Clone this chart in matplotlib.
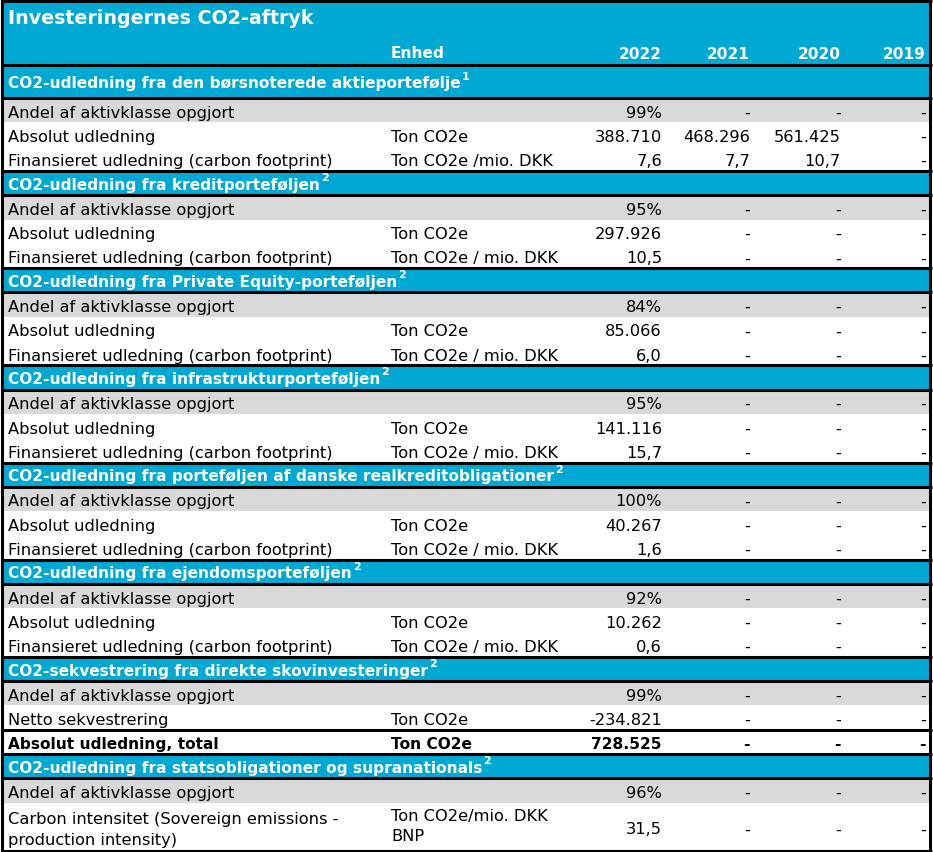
import matplotlib
matplotlib.use("Agg")
import matplotlib.pyplot as plt
from matplotlib.patches import Rectangle

# data
title = "Investeringernes CO2-aftryk"
unit_header = "Enhed"
years = ["2022", "2021", "2020", "2019"]

section_titles = [
    "CO2-udledning fra den børsnoterede aktieportefølje",
    "CO2-udledning fra kreditporteføljen",
    "CO2-udledning fra Private Equity-porteføljen",
    "CO2-udledning fra infrastrukturporteføljen",
    "CO2-udledning fra porteføljen af danske realkreditobligationer",
    "CO2-udledning fra ejendomsporteføljen",
    "CO2-sekvestrering fra direkte skovinvesteringer",
    "CO2-udledning fra statsobligationer og supranationals",
]
section_notes = ["1", "2", "2", "2", "2", "2", "2", "2"]

andel = "Andel af aktivklasse opgjort"
absolut = "Absolut udledning"
finans = "Finansieret udledning (carbon footprint)"
ton = "Ton CO2e"
ton_dkk = "Ton CO2e / mio. DKK"

# each row: label, unit, values 2022..2019
section_rows = [
    [(andel, "", ["99%", "-", "-", "-"]),
     (absolut, ton, ["388.710", "468.296", "561.425", "-"]),
     (finans, "Ton CO2e /mio. DKK", ["7,6", "7,7", "10,7", "-"])],
    [(andel, "", ["95%", "-", "-", "-"]),
     (absolut, ton, ["297.926", "-", "-", "-"]),
     (finans, ton_dkk, ["10,5", "-", "-", "-"])],
    [(andel, "", ["84%", "-", "-", "-"]),
     (absolut, ton, ["85.066", "-", "-", "-"]),
     (finans, ton_dkk, ["6,0", "-", "-", "-"])],
    [(andel, "", ["95%", "-", "-", "-"]),
     (absolut, ton, ["141.116", "-", "-", "-"]),
     (finans, ton_dkk, ["15,7", "-", "-", "-"])],
    [(andel, "", ["100%", "-", "-", "-"]),
     (absolut, ton, ["40.267", "-", "-", "-"]),
     (finans, ton_dkk, ["1,6", "-", "-", "-"])],
    [(andel, "", ["92%", "-", "-", "-"]),
     (absolut, ton, ["10.262", "-", "-", "-"]),
     (finans, ton_dkk, ["0,6", "-", "-", "-"])],
    [(andel, "", ["99%", "-", "-", "-"]),
     ("Netto sekvestrering", ton, ["-234.821", "-", "-", "-"])],
    [(andel, "", ["96%", "-", "-", "-"]),
     ("Carbon intensitet (Sovereign emissions -\nproduction intensity)",
      "Ton CO2e/mio. DKK\nBNP", ["31,5", "-", "-", "-"])],
]
total_row = ("Absolut udledning, total", ton, ["728.525", "-", "-", "-"])

BLUE = "#00a9d4"
GREY = "#d9d9d9"
W, H = 933, 853
FS = 11.7      # normal text
FSB = 11.1     # bold text

fig = plt.figure(figsize=(W / 100, H / 100), dpi=100)
ax = fig.add_axes([0, 0, 1, 1])
ax.set_xlim(0, W)
ax.set_ylim(H, 0)
ax.axis("off")

x0, x1 = 2, 930
lab_x, unit_x = 8, 391
val_x = [662, 750, 841, 926]
rh = 24.3

borders = []


def band(y, h, color):
    ax.add_patch(Rectangle((x0, y), x1 - x0, h, facecolor=color, edgecolor="none", zorder=1))


def header(y, h, text, note):
    band(y, h, BLUE)
    t = ax.text(lab_x, y + h / 2 + 1, text, color="white", fontsize=FSB, fontweight="bold",
                va="center", ha="left", zorder=3)
    r = fig.canvas.get_renderer()
    bb = t.get_window_extent(r)
    xe = ax.transData.inverted().transform((bb.x1, 0))[0]
    ax.text(xe + 1, y + h / 2 - 6, note, color="white", fontsize=FSB * 0.72, fontweight="bold",
            va="center", ha="left", zorder=3)


def data_row(y, row, grey=False, bold=False, lines=1):
    h = rh * lines
    band(y, h, GREY if grey else "white")
    label, unit, vals = row
    fw = "bold" if bold else "normal"
    fs = FSB if bold else FS
    yc = y + h / 2 + 2
    ax.text(lab_x, yc, label, fontsize=fs, fontweight=fw, va="center", ha="left",
            color="black", zorder=3, linespacing=1.45)
    if unit:
        if lines > 1:
            ax.text(unit_x, y + 5, unit, fontsize=fs, fontweight=fw, va="top", ha="left",
                    color="black", zorder=3, linespacing=1.45)
        else:
            ax.text(unit_x, yc, unit, fontsize=fs, fontweight=fw, va="center", ha="left",
                    color="black", zorder=3)
    for xv, v in zip(val_x, vals):
        ax.text(xv, yc, v, fontsize=fs, fontweight=fw, va="center", ha="right",
                color="black", zorder=3)
    return h


# title / column header block
band(2, 64, BLUE)
ax.text(lab_x, 18, title, color="white", fontsize=13.7, fontweight="bold", va="center", ha="left", zorder=3)
ax.text(unit_x, 53, unit_header, color="white", fontsize=FSB, fontweight="bold", va="center", ha="left", zorder=3)
for xv, yr in zip(val_x, years):
    ax.text(xv, 54, yr, color="white", fontsize=FSB, fontweight="bold", va="center", ha="right", zorder=3)
borders.append(2)
borders.append(66)

y = 66
for i, (st, note, rows) in enumerate(zip(section_titles, section_notes, section_rows)):
    hh = 33 if i == 0 else rh
    header(y, hh, st, note)
    y += hh
    borders.append(y)
    for j, row in enumerate(rows):
        lines = row[0].count("\n") + 1
        y += data_row(y, row, grey=(j == 0), lines=lines)
    borders.append(y)
    if i == 6:
        y += data_row(y, total_row, bold=True)
        borders.append(y)

for yb in borders:
    ax.plot([x0 - 1, x1 + 1.5], [yb, yb], color="black", lw=2.2, zorder=4, solid_capstyle="butt")
ax.plot([x0, x0], [2, y], color="black", lw=2.2, zorder=4)
ax.plot([x1, x1], [2, y], color="black", lw=2.2, zorder=4)

fig.savefig("out.png", dpi=100, facecolor="white")
